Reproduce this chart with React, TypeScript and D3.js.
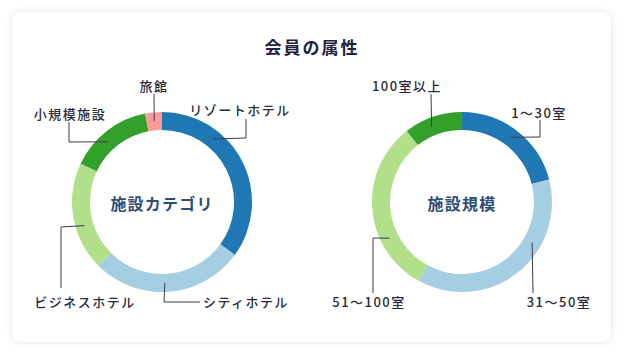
import React from 'react';
import * as d3 from 'd3';

const title = '会員の属性';

const categoryNames = ['リゾートホテル', 'シティホテル', 'ビジネスホテル', '小規模施設', '旅館'];
const categoryShares = [35, 27.5, 19.5, 15, 3];

const sizeNames = ['1〜30室', '31〜50室', '51〜100室', '100室以上'];
const sizeShares = [21, 37, 31.5, 10.5];

const W = 624;
const H = 354;
const R_OUT = 90;
const R_IN = 72;
const R_MID = 81;

// leader layout per slice: anchor angle (deg, clockwise from top), elbow path offsets, label centre
const categoryLeaders = [
  { angle: 39, path: [[84, -64], [84, -83]], label: [78, -93] },
  { angle: 178, path: [[2, 100], [38, 100]], label: [84, 99] },
  { angle: 253, path: [[-101, 25], [-101, 86]], label: [-77, 99] },
  { angle: 318, path: [[-93, -60], [-93, -80]], label: [-92, -89] },
  { angle: 354.5, path: [[-8, -108]], label: [-8, -117] },
];

const sizeLeaders = [
  { angle: 37, path: [[78, -65], [78, -82]], label: [77, -90] },
  { angle: 120, path: [[71, 91]], label: [97, 99] },
  { angle: 243.5, path: [[-89, 36], [-89, 91]], label: [-93, 99] },
  { angle: 338, path: [[-31, -108]], label: [-55, -117] },
];

const paired = d3.schemePaired;
const color = d3
  .scaleOrdinal<number, string>()
  .domain(d3.range(5))
  .range([paired[1], paired[0], paired[2], paired[3], paired[4]]);

function Donut({ cx, names, values, leaders, center }) {
  const cy = 202;
  const pie = d3.pie<number>().sort(null).value((d) => d);
  const arcs = pie(values);
  const arc = d3.arc<d3.PieArcDatum<number>>().innerRadius(R_IN).outerRadius(R_OUT);
  const toXY = (deg: number, r: number) => {
    const a = (deg * Math.PI) / 180;
    return [r * Math.sin(a), -r * Math.cos(a)];
  };
  return (
    <g transform={`translate(${cx},${cy})`}>
      {arcs.map((a, i) => (
        <path key={i} d={arc(a) || ''} fill={color(i)} />
      ))}
      {leaders.map((l, i) => {
        const pts = [toXY(l.angle, R_MID), ...l.path];
        return (
          <g key={i}>
            <path
              d={d3.line()(pts as [number, number][]) || ''}
              fill="none"
              stroke="#3c3c4c"
              strokeWidth={1}
            />
            <text
              x={l.label[0]}
              y={l.label[1]}
              textAnchor="middle"
              dominantBaseline="central"
              fontSize={13}
              fontWeight={500}
              letterSpacing={1.5}
              fill="#2a2a38"
            >
              {names[i]}
            </text>
          </g>
        );
      })}
      <text
        x={0}
        y={1}
        textAnchor="middle"
        dominantBaseline="central"
        fontSize={16}
        fontWeight="bold"
        letterSpacing={1.2}
        fill="#2d4c76"
      >
        {center}
      </text>
    </g>
  );
}

export default function App() {
  return (
    <svg
      width={W}
      height={H}
      style={{ position: 'absolute', left: 0, top: 0, fontFamily: '"Noto Sans CJK JP", "Noto Sans", sans-serif' }}
    >
      <defs>
        <filter id="sh" x="-10%" y="-10%" width="120%" height="120%">
          <feDropShadow dx="0" dy="0" stdDeviation="3.5" floodColor="#000" floodOpacity="0.12" />
        </filter>
      </defs>
      <rect x={0} y={0} width={W} height={H} fill="#fff" />
      <rect x={12} y={12} width={599} height={330} rx={9} fill="#fff" filter="url(#sh)" />
      <text
        x={312}
        y={46}
        textAnchor="middle"
        dominantBaseline="central"
        fontSize={17}
        fontWeight="bold"
        letterSpacing={2}
        fill="#1e2140"
      >
        {title}
      </text>
      <Donut cx={162} names={categoryNames} values={categoryShares} leaders={categoryLeaders} center="施設カテゴリ" />
      <Donut cx={462} names={sizeNames} values={sizeShares} leaders={sizeLeaders} center="施設規模" />
    </svg>
  );
}
